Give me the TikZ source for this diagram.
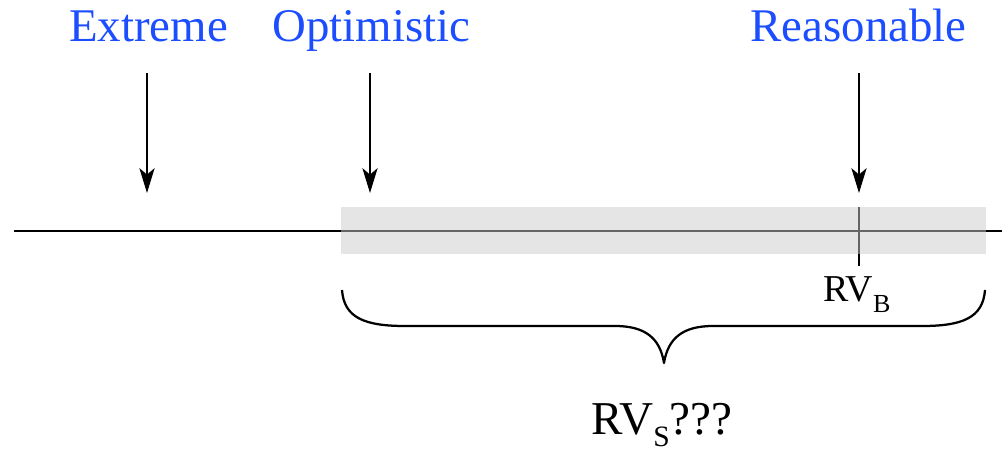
\documentclass[tikz,border=0pt]{standalone}
\usepackage{fontspec}
\setmainfont{Liberation Serif}
\usetikzlibrary{arrows.meta}
\definecolor{lblblue}{RGB}{28,78,255}
\definecolor{bandgray}{RGB}{204,204,204}
\begin{document}
\begin{tikzpicture}[x=0.025cm,y=-0.025cm,
  toplabel/.style={anchor=base,inner sep=0pt,text=lblblue,font=\fontsize{33.3}{37}\selectfont},
  rvlabel/.style={anchor=base,inner sep=0pt,text=black},
  arr/.style={line width=1.5pt,-{Stealth[length=0.62cm,width=0.38cm,inset=0.16cm]}},
  axis/.style={line width=1.5pt},
  bracestyle/.style={line width=1.6pt,line join=round}]
\useasboundingbox (0,0) rectangle (1002,452);
% labels
\node[toplabel] (ext) at (148.5,42) {Extreme};
\node[toplabel] (opt) at (371.5,42) {Optimistic};
\node[toplabel] (rea) at (858.5,42) {Reasonable};
% arrow coordinates
\coordinate (extA) at (147,73); \coordinate (extB) at (147,193);
\coordinate (optA) at (370,73); \coordinate (optB) at (370,193);
\coordinate (reaA) at (859,73); \coordinate (reaB) at (859,193);
\draw[arr] (extA) -- (extB);
\draw[arr] (optA) -- (optB);
\draw[arr] (reaA) -- (reaB);
% axis
\coordinate (axL) at (14,231); \coordinate (axR) at (1002,231);
\draw[axis] (axL) -- (axR);
\coordinate (tickT) at (859,207); \coordinate (tickB) at (859,266);
\draw[axis] (tickT) -- (tickB);
% band
\fill[bandgray,fill opacity=0.5] (341,207) rectangle (986,254);
% RV_B
\node[rvlabel,font=\fontsize{27}{30}\selectfont] (rvb) at (857,302)
  {RV\raisebox{-7.8pt}{\fontsize{18.5}{20}\selectfont B}};
% brace
\coordinate (brL) at (342,290);
\coordinate (brR) at (985,290);
\coordinate (brTip) at (664,363);
\draw[bracestyle] (brL) .. controls (344,318) and (365,326) .. (405,326)
  -- (615,326) .. controls (645,326) and (660,338) .. (brTip)
  .. controls (668,338) and (683,326) .. (713,326)
  -- (922,326) .. controls (962,326) and (983,318) .. (brR);
% RV_S
\node[rvlabel,font=\fontsize{33.5}{36}\selectfont] (rvs) at (662,435)
  {RV\raisebox{-8.5pt}{\fontsize{21}{23}\selectfont S}???};
\end{tikzpicture}
\end{document}
